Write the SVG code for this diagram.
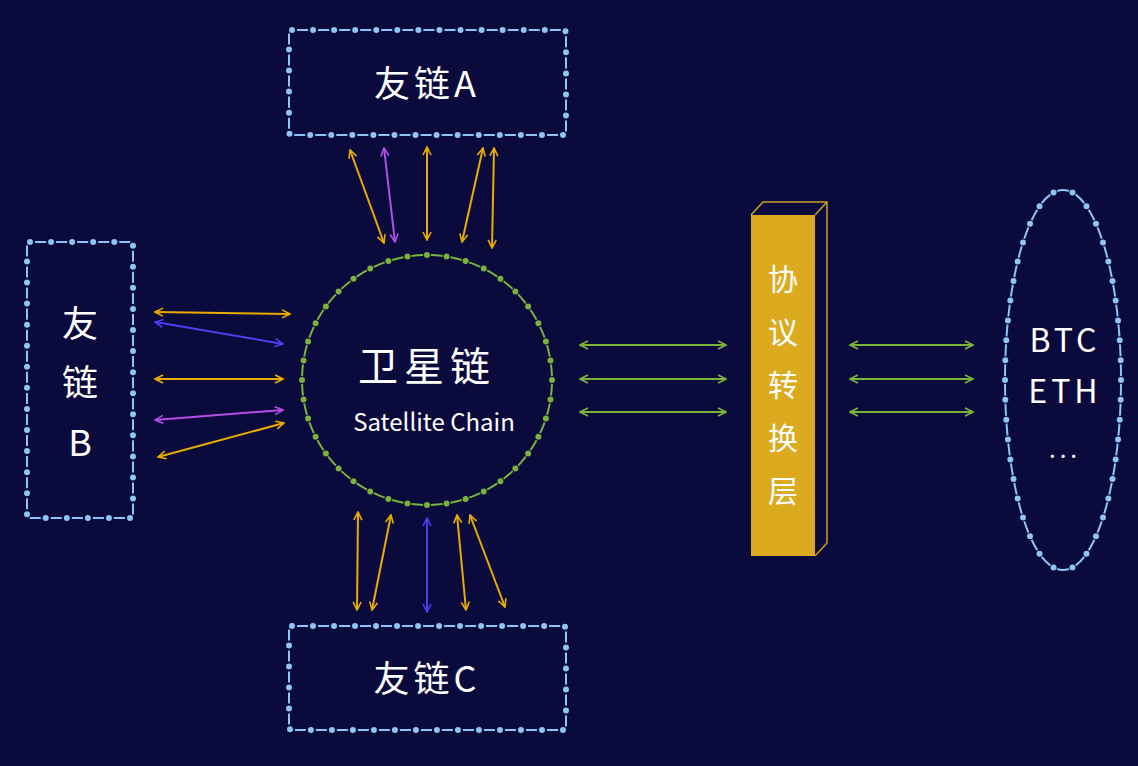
<svg xmlns="http://www.w3.org/2000/svg" width="1138" height="766" viewBox="0 0 1138 766">
<style>
.dl{fill:none;stroke:#8ec5f5;stroke-width:2;stroke-dasharray:0 5 11 5}
.dd{fill:none;stroke:#8ec5f5;stroke-width:6;stroke-linecap:round;stroke-dasharray:0 21}
.t{font-family:"Noto Sans CJK SC","Noto Sans",sans-serif;fill:#fff}
.a{stroke-width:2;fill:none}
.y{stroke:#e8ad00;marker-start:url(#my);marker-end:url(#my)}
.p{stroke:#b44fe8;marker-start:url(#mp);marker-end:url(#mp)}
.b{stroke:#4d3ff0;marker-start:url(#mb);marker-end:url(#mb)}
.g{stroke:#7ab33c;marker-start:url(#mg);marker-end:url(#mg)}
</style>
<defs>
<marker id="my" viewBox="0 0 10 10" refX="9" refY="5" markerWidth="5" markerHeight="5" orient="auto-start-reverse"><path d="M1 1L9 5L1 9" fill="none" stroke="#e8ad00" stroke-width="1.6"/></marker>
<marker id="mp" viewBox="0 0 10 10" refX="9" refY="5" markerWidth="5" markerHeight="5" orient="auto-start-reverse"><path d="M1 1L9 5L1 9" fill="none" stroke="#b44fe8" stroke-width="1.6"/></marker>
<marker id="mb" viewBox="0 0 10 10" refX="9" refY="5" markerWidth="5" markerHeight="5" orient="auto-start-reverse"><path d="M1 1L9 5L1 9" fill="none" stroke="#4d3ff0" stroke-width="1.6"/></marker>
<marker id="mg" viewBox="0 0 10 10" refX="9" refY="5" markerWidth="5" markerHeight="5" orient="auto-start-reverse"><path d="M1 1L9 5L1 9" fill="none" stroke="#7ab33c" stroke-width="1.6"/></marker>
</defs>
<rect width="1138" height="766" fill="#0b0a3c"/>
<g id="chainA">
<rect x="289" y="30" width="277" height="105" rx="3" pathLength="756" class="dl"/>
<rect x="289" y="30" width="277" height="105" rx="3" pathLength="756" class="dd"/>
<text x="427" y="97" class="t" font-size="36" text-anchor="middle" letter-spacing="4">友链A</text>
</g>
<g id="chainB">
<rect x="27" y="242" width="106" height="276" rx="3" pathLength="756" class="dl"/>
<rect x="27" y="242" width="106" height="276" rx="3" pathLength="756" class="dd"/>
<text x="80" y="337" class="t" font-size="36" text-anchor="middle">友</text>
<text x="80" y="396" class="t" font-size="36" text-anchor="middle">链</text>
<text x="80" y="456" class="t" font-size="36" text-anchor="middle">B</text>
</g>
<g id="chainC">
<rect x="289" y="626" width="277" height="104" rx="3" pathLength="756" class="dl"/>
<rect x="289" y="626" width="277" height="104" rx="3" pathLength="756" class="dd"/>
<text x="427" y="692" class="t" font-size="36" text-anchor="middle" letter-spacing="4">友链C</text>
</g>
<g id="satellite">
<circle cx="427" cy="380" r="125" pathLength="800" fill="none" stroke="#7ab33c" stroke-width="2" stroke-dasharray="0 4 12 4" transform="rotate(-90 427 380)"/>
<circle cx="427" cy="380" r="125" pathLength="800" fill="none" stroke="#7ab33c" stroke-width="6" stroke-linecap="round" stroke-dasharray="0 20" transform="rotate(-90 427 380)"/>
<text x="427" y="381" class="t" font-size="40" text-anchor="middle" letter-spacing="6">卫星链</text>
<text x="434" y="431" class="t" font-size="24" text-anchor="middle" font-family="'Open Sans',sans-serif">Satellite Chain</text>
</g>
<g id="protocol">
<path d="M751 215L763 202H827V543L815 556M815 215L827 202" fill="none" stroke="#c9a020" stroke-width="1.5"/>
<rect x="751" y="215" width="64" height="341" fill="#dcaa1e"/>
<g class="t" font-size="30" text-anchor="middle">
<text x="783" y="290">协</text><text x="783" y="343">议</text><text x="783" y="396">转</text><text x="783" y="449">换</text><text x="783" y="502">层</text>
</g>
</g>
<g id="mainchains">
<ellipse cx="1063" cy="380" rx="58" ry="190" pathLength="840" fill="none" stroke="#8ec5f5" stroke-width="2" stroke-dasharray="0 4 12 4"/>
<ellipse cx="1063" cy="380" rx="58" ry="190" pathLength="840" fill="none" stroke="#8ec5f5" stroke-width="6" stroke-linecap="round" stroke-dasharray="0 20"/>
<g class="t" font-size="32" font-family="'Liberation Sans',sans-serif" text-anchor="middle" letter-spacing="4">
<text x="1065" y="352">BTC</text><text x="1065" y="403">ETH</text><text x="1065" y="458" font-size="24">...</text>
</g>
</g>
<g id="connectors" class="a">
<line class="a y" x1="350" y1="150" x2="384" y2="243"/>
<line class="a p" x1="384" y1="148" x2="395" y2="242"/>
<line class="a y" x1="427" y1="147" x2="427" y2="240"/>
<line class="a y" x1="483" y1="148" x2="462" y2="242"/>
<line class="a y" x1="494" y1="148" x2="492" y2="248"/>
<line class="a y" x1="155" y1="312" x2="290" y2="314"/>
<line class="a b" x1="155" y1="322" x2="283" y2="344"/>
<line class="a y" x1="155" y1="379" x2="283" y2="379"/>
<line class="a p" x1="155" y1="420" x2="283" y2="410"/>
<line class="a y" x1="158" y1="457" x2="284" y2="423"/>
<line class="a y" x1="358" y1="512" x2="357" y2="610"/>
<line class="a y" x1="391" y1="515" x2="372" y2="610"/>
<line class="a b" x1="427" y1="518" x2="427" y2="612"/>
<line class="a y" x1="457" y1="515" x2="466" y2="610"/>
<line class="a y" x1="470" y1="515" x2="505" y2="607"/>
<line class="a g" x1="580" y1="345" x2="726" y2="345"/>
<line class="a g" x1="580" y1="379" x2="726" y2="379"/>
<line class="a g" x1="580" y1="412" x2="726" y2="412"/>
<line class="a g" x1="850" y1="345" x2="973" y2="345"/>
<line class="a g" x1="850" y1="379" x2="973" y2="379"/>
<line class="a g" x1="850" y1="412" x2="973" y2="412"/>
</g>
</svg>
